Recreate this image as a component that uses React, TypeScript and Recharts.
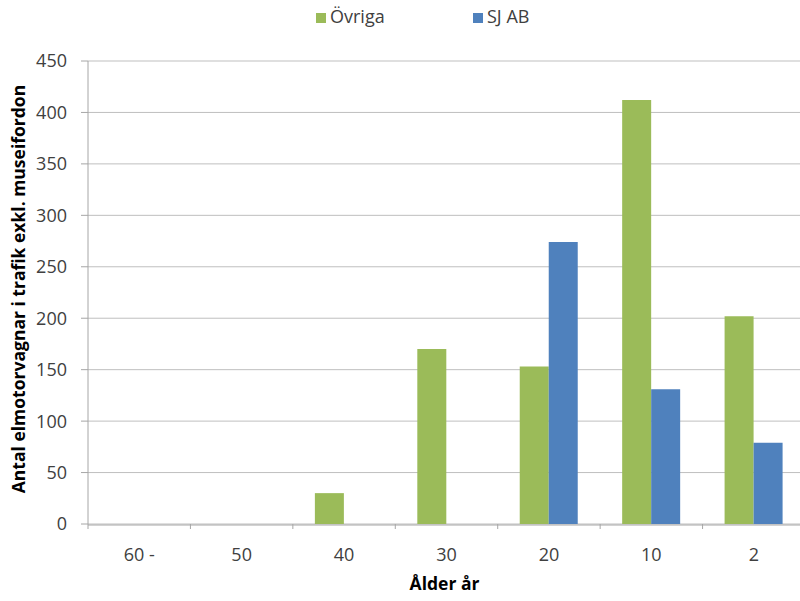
import React from 'react';
import { BarChart, Bar, XAxis, YAxis, CartesianGrid, Legend } from 'recharts';

const categories = ['60 -', '50', '40', '30', '20', '10', '2'];
const ovriga = [0, 0, 30, 170, 153, 412, 202];
const sjab = [0, 0, 0, 0, 274, 131, 79];
const yTicks = [0, 50, 100, 150, 200, 250, 300, 350, 400, 450];
const boundaryTicks = [0, 1, 2, 3, 4, 5, 6, 7];

const data = categories.map((c, i) => ({ cat: c, ovriga: ovriga[i], sjab: sjab[i] }));

const FONT = '"Open Sans", "Noto Sans", sans-serif';
const GREEN = '#9BBB59';
const BLUE = '#4F81BD';
const GRID = '#BFBFBF';
const TEXT = '#404040';

const YLabel = (props: any) => {
  const cx = 18;
  const cy = 289;
  return (
    <text
      x={cx}
      y={cy}
      transform={`rotate(-90, ${cx}, ${cy})`}
      textAnchor="middle"
      dominantBaseline="central"
      fontFamily={FONT}
      fontWeight="bold"
      fontSize={17.5}
      fill="#000"
    >
      Antal elmotorvagnar i trafik exkl. museifordon
    </text>
  );
};

const XLabel = (props: any) => {
  const vb = props.viewBox || {};
  const cx = vb.x + vb.width / 2 - 2;
  return (
    <text
      x={cx}
      y={583}
      textAnchor="middle"
      dominantBaseline="central"
      fontFamily={FONT}
      fontWeight="bold"
      fontSize={17.5}
      fill="#000"
    >
      Ålder år
    </text>
  );
};

export default function App() {
  return (
    <div style={{ position: 'absolute', left: 0, top: 0, width: 800, height: 601, overflow: 'hidden', background: '#fff' }}>
      <BarChart
        width={806}
        height={601}
        data={data}
        margin={{ top: 43, right: 1, bottom: 16, left: 0 }}
        barCategoryGap="21.5%"
        barGap={0}
      >
        <CartesianGrid vertical={false} stroke={GRID} strokeWidth={1} />
        <Legend
          verticalAlign="top"
          align="left"
          iconType="square"
          iconSize={10}
          itemSorter="dataKey"
          wrapperStyle={{ top: 5, left: 316, width: 400, height: 18, lineHeight: '22px', fontFamily: FONT, fontSize: 18 }}
          formatter={(v: string, entry: any) => (
            <span style={{ color: TEXT, display: 'inline-block', width: entry && entry.dataKey === 'ovriga' ? 133 : 60 }}>{v}</span>
          )}
        />
        <XAxis
          xAxisId="b"
          type="number"
          dataKey={() => 0}
          domain={[0, 7]}
          ticks={boundaryTicks}
          tickFormatter={() => ''}
          height={1}
          axisLine={false}
          tickLine={{ stroke: '#A6A6A6' }}
          tickSize={5}
          allowDataOverflow
        />
        <XAxis
          xAxisId="cat"
          dataKey="cat"
          height={60}
          axisLine={{ stroke: '#A6A6A6' }}
          tickLine={false}
          tick={{ fill: TEXT, fontFamily: FONT, fontSize: 18 }}
          tickMargin={17}
          label={<XLabel />}
        />
        <YAxis
          domain={[0, 450]}
          ticks={yTicks}
          width={88}
          axisLine={{ stroke: '#A6A6A6' }}
          tickLine={{ stroke: '#A6A6A6' }}
          tickSize={7}
          tick={{ fill: TEXT, fontFamily: FONT, fontSize: 18 }}
          tickMargin={14}
          interval={0}
          label={<YLabel />}
        />
        <Bar xAxisId="cat" dataKey="ovriga" name="Övriga" fill={GREEN} isAnimationActive={false} />
        <Bar xAxisId="cat" dataKey="sjab" name="SJ AB" fill={BLUE} isAnimationActive={false} />
      </BarChart>
    </div>
  );
}
